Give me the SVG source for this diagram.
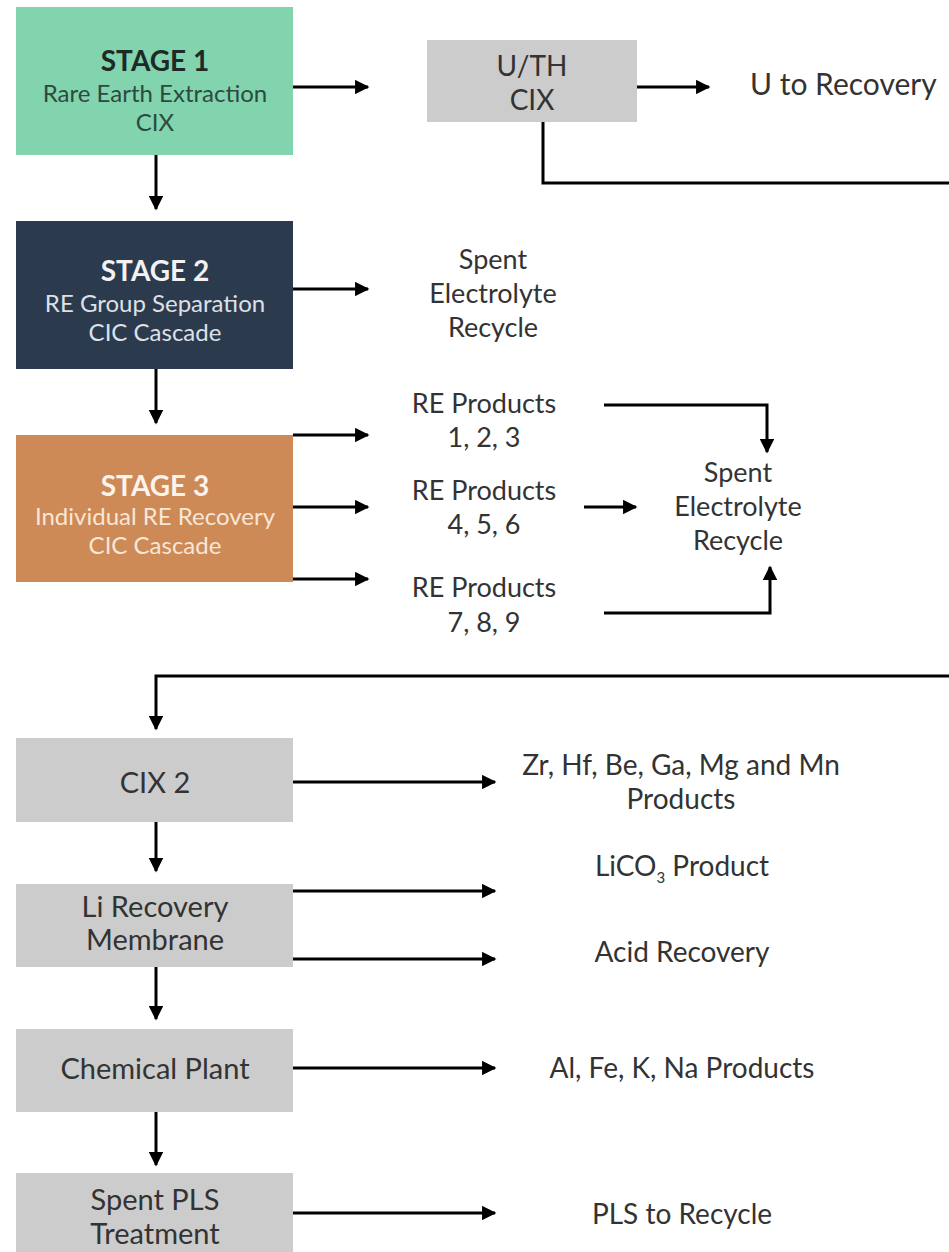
<svg xmlns="http://www.w3.org/2000/svg" width="949" height="1252" viewBox="0 0 949 1252">
<defs>
<marker id="ah" viewBox="0 0 10 10" refX="9" refY="5" markerWidth="5.2" markerHeight="4.8" markerUnits="strokeWidth" orient="auto">
<path d="M0,0 L10,5 L0,10 z" fill="#000"/>
</marker>
</defs>
<style>
text{font-family:Lato,"Open Sans","Liberation Sans",sans-serif;text-anchor:middle;dominant-baseline:middle}
.t{font-size:28px;font-weight:bold}
.s{font-size:24px}
.l{font-size:27px;fill:#333}
.m{font-size:28px;fill:#333}
.b{font-size:29px;fill:#333}
.g{fill:#cccccc}
.c{stroke:#000;stroke-width:3;fill:none}
.a{marker-end:url(#ah)}
</style>
<rect width="949" height="1252" fill="#fff"/>
<g id="stage1">
<rect x="16" y="7" width="277" height="148" fill="#81d4ae"/>
<text class="t" x="155" y="64" fill="#1e2a28">STAGE 1</text>
<text class="s" x="155" y="96" fill="#2d4a40">Rare Earth Extraction</text>
<text class="s" x="155" y="125" fill="#2d4a40">CIX</text>
</g>
<g id="uth">
<rect class="g" x="427" y="40" width="210" height="82"/>
<text class="m" x="532" y="69">U/TH</text>
<text class="m" x="532" y="103">CIX</text>
</g>
<g id="u-recovery"><text class="m" x="750" y="87" style="text-anchor:start;font-size:30px">U to Recovery</text></g>
<g id="stage2">
<rect x="16" y="221" width="277" height="148" fill="#2c3a4e"/>
<text class="t" x="155" y="274" fill="#f2f2f2">STAGE 2</text>
<text class="s" x="155" y="306" fill="#dde1e6">RE Group Separation</text>
<text class="s" x="155" y="335" fill="#dde1e6">CIC Cascade</text>
</g>
<g id="spent1">
<text class="l" x="493" y="262">Spent</text>
<text class="l" x="493" y="296">Electrolyte</text>
<text class="l" x="493" y="330">Recycle</text>
</g>
<g id="stage3">
<rect x="16" y="435" width="277" height="147" fill="#cd8a56"/>
<text class="t" x="155" y="489" fill="#fbf3ec">STAGE 3</text>
<text class="s" x="155" y="519" fill="#f8e6d8">Individual RE Recovery</text>
<text class="s" x="155" y="548" fill="#f8e6d8">CIC Cascade</text>
</g>
<g id="re123">
<text class="l" x="484" y="406">RE Products</text>
<text class="l" x="484" y="440">1, 2, 3</text>
</g>
<g id="re456">
<text class="l" x="484" y="493">RE Products</text>
<text class="l" x="484" y="527">4, 5, 6</text>
</g>
<g id="re789">
<text class="l" x="484" y="590">RE Products</text>
<text class="l" x="484" y="625">7, 8, 9</text>
</g>
<g id="spent2">
<text class="l" x="738" y="475">Spent</text>
<text class="l" x="738" y="509">Electrolyte</text>
<text class="l" x="738" y="543">Recycle</text>
</g>
<g id="cix2">
<rect class="g" x="16" y="738" width="277" height="84"/>
<text class="b" x="155" y="786">CIX 2</text>
</g>
<g id="zr">
<text class="m" x="681" y="768">Zr, Hf, Be, Ga, Mg and Mn</text>
<text class="m" x="681" y="802">Products</text>
</g>
<g id="li">
<rect class="g" x="16" y="884" width="277" height="83"/>
<text class="b" x="155" y="910">Li Recovery</text>
<text class="b" x="155" y="943">Membrane</text>
</g>
<g id="lico3"><text class="m" x="682" y="869">LiCO<tspan font-size="15" dy="10">3</tspan><tspan dy="-10"> Product</tspan></text></g>
<g id="acid"><text class="m" x="682" y="955">Acid Recovery</text></g>
<g id="chem">
<rect class="g" x="16" y="1029" width="277" height="83"/>
<text class="b" x="155" y="1072">Chemical Plant</text>
</g>
<g id="alfe"><text class="m" x="682" y="1071">Al, Fe, K, Na Products</text></g>
<g id="pls">
<rect class="g" x="16" y="1173" width="277" height="79"/>
<text class="b" x="155" y="1203">Spent PLS</text>
<text class="b" x="155" y="1237">Treatment</text>
</g>
<g id="plsrec"><text class="m" x="682" y="1217">PLS to Recycle</text></g>
<g id="connectors">
<path class="c a" d="M293,87 H368"/>
<path class="c a" d="M637,87 H709"/>
<path class="c" d="M543,122 V183 H949"/>
<path class="c a" d="M156,155 V209"/>
<path class="c a" d="M293,289 H368"/>
<path class="c a" d="M156,369 V423"/>
<path class="c a" d="M293,435 H368"/>
<path class="c a" d="M293,507 H368"/>
<path class="c a" d="M293,579 H368"/>
<path class="c a" d="M604,405 H767 V452"/>
<path class="c a" d="M584,507 H636"/>
<path class="c a" d="M604,613 H770 V567"/>
<path class="c a" d="M949,676 H156 V729"/>
<path class="c a" d="M293,782 H495"/>
<path class="c a" d="M156,822 V871"/>
<path class="c a" d="M293,891 H495"/>
<path class="c a" d="M293,959 H495"/>
<path class="c a" d="M156,967 V1019"/>
<path class="c a" d="M293,1068 H495"/>
<path class="c a" d="M156,1112 V1165"/>
<path class="c a" d="M293,1213 H495"/>
</g>
</svg>
